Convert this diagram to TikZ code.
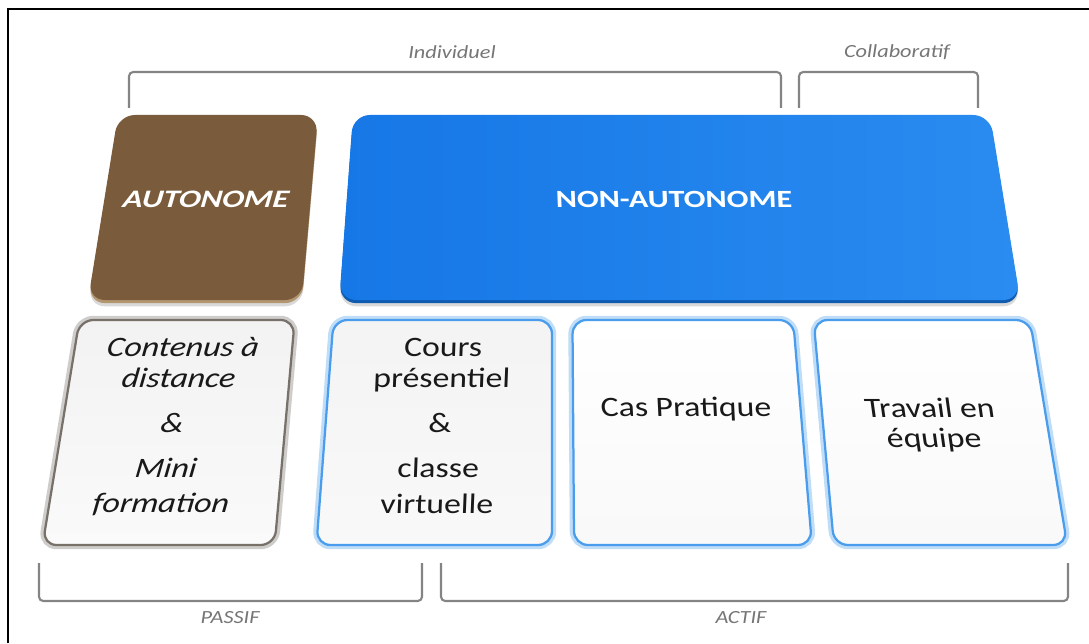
\documentclass[tikz,border=0pt]{standalone}
\usepackage{fontspec}
\setmainfont{Carlito}
\newfontfamily\etire[FakeStretch=1.3]{Carlito}
\newfontfamily\etiret[FakeStretch=1.2]{Carlito}
\usetikzlibrary{calc}
\definecolor{marron}{HTML}{7A5C3C}
\definecolor{marronc}{HTML}{B39670}
\definecolor{bleu}{HTML}{1677E6}
\definecolor{bleuc}{HTML}{2A8CF0}
\definecolor{bleuf}{HTML}{0F5BB0}
\definecolor{halo}{HTML}{4A9DEC}
\definecolor{gris}{HTML}{767676}

% plaque en perspective : style, u gauche, u droite, y haut, y bas
\newcommand\plaque[5]{%
  \path[#1] ({px(#2,#5)},#5) -- ({px(#2,#4)},#4) -- ({px(#3,#4)},#4) -- ({px(#3,#5)},#5) -- cycle;}

\begin{document}
\begin{tikzpicture}[x=0.025cm,y=-0.025cm,
  declare function={px(\u,\v)=552+(\u-552)*((\v+2565)/2680);},
  epais/.style={preaction={fill=black!15,transform canvas={yshift=-4.5pt}},
                preaction={fill=#1,transform canvas={yshift=-2.2pt}}},
  carte/.style={rounded corners=10pt,line width=1.6pt,draw=#1,
                preaction={draw=#1!35,line width=6pt}},
  accolade/.style={draw=gris!90,line width=1.5pt,rounded corners=3pt},
  etiquette/.style={text=gris,font=\etiret\itshape\fontsize{13.2}{14}\selectfont},
  titre/.style={text=white,font=\etire\bfseries\fontsize{17.6}{20}\selectfont},
  texte/.style={text=black!90,align=center,font=\etiret\fontsize{20}{22}\selectfont}]
\useasboundingbox (0,0) rectangle (1089,643);
\fill[white] (0,0) rectangle (1089,643);
\draw[line width=1.5pt] (8,643) -- (8,9) -- (1089,9);

% accolades du haut
\draw[accolade] (129,108) -- (129,72) -- (781,72) -- (781,108);
\draw[accolade] (799,108) -- (799,72) -- (978,72) -- (978,108);
\node[etiquette] (individuel) at (452,52) {Individuel};
\node[etiquette] (collaboratif) at (897,52) {Collaboratif};

% plaques du haut
\plaque{rounded corners=12pt,fill=marron,epais=marronc}{118}{318}{115}{300}
\plaque{rounded corners=12pt,left color=bleu,right color=bleuc,epais=bleuf}{353}{990}{115}{300}
\node[titre,font=\etire\bfseries\itshape\fontsize{17.9}{20}\selectfont,xslant=0.13] (autonome) at (206,199) {AUTONOME};
\node[titre,xslant=-0.04] (nonautonome) at (674,199) {NON-AUTONOME};

% plaques du bas
\plaque{carte=gris!80!marron,top color=gray!10,bottom color=gray!4}{113}{313}{320}{545}
\plaque{carte=halo,top color=gray!9,bottom color=gray!5}{349}{552}{320}{545}
\plaque{carte=halo,top color=white,bottom color=gray!5}{571}{776}{320}{545}
\plaque{carte=halo,top color=white,bottom color=gray!5}{795}{996}{320}{545}

\node[texte,font=\etiret\itshape\fontsize{20}{22}\selectfont,xslant=0.14] (contenus) at (172,427)
  {Contenus à\\distance\\[10pt]\&\\[10pt]Mini\\[3pt]formation};
\node[texte,xslant=0.04] (cours) at (440,426)
  {Cours\\présentiel\\[10pt]\&\\[10pt]classe\\[3pt]virtuelle};
\node[texte,xslant=-0.05] (cas) at (686,409) {Cas Pratique};
\node[texte,xslant=-0.14] (travail) at (932,425) {Travail en\\équipe};

% accolades du bas
\draw[accolade] (39,563) -- (39,601) -- (422,601) -- (422,563);
\draw[accolade] (441,563) -- (441,601) -- (1068,601) -- (1068,563);
\node[etiquette] (passif) at (230,618) {PASSIF};
\node[etiquette] (actif) at (741,618) {ACTIF};
\end{tikzpicture}
\end{document}
